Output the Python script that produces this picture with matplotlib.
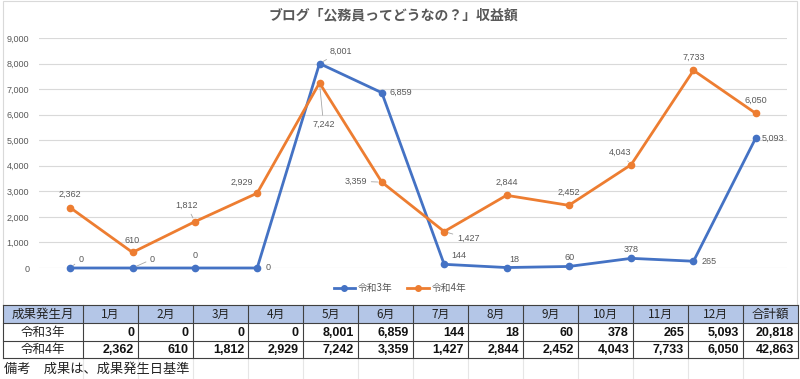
import matplotlib
matplotlib.use("Agg")
import matplotlib.pyplot as plt
from matplotlib.lines import Line2D
from matplotlib.patches import Rectangle

plt.rcParams['font.family'] = ['Noto Sans CJK JP', 'DejaVu Sans']

# データ
months = ['1月', '2月', '3月', '4月', '5月', '6月', '7月', '8月', '9月', '10月', '11月', '12月']
r3 = [0, 0, 0, 0, 8001, 6859, 144, 18, 60, 378, 265, 5093]
r4 = [2362, 610, 1812, 2929, 7242, 3359, 1427, 2844, 2452, 4043, 7733, 6050]
series_names = ['令和3年', '令和4年']
title = 'ブログ「公務員ってどうなの？」収益額'
footer = '備考　成果は、成果発生日基準'

BLUE = '#4472C4'
ORANGE = '#ED7D31'
GRAY = '#595959'

# ラベル位置 (ピクセルのオフセット, 引き出し線)
r3_off = [(11, 9, 1), (20, 9, 1), (0, 12, 0), (11, 0, 0), (21, 12, 1), (19, 0, 0),
          (15, 9, 0), (8, 8, 0), (1, 9, 0), (0, 9, 0), (16, 0, 0), (17, 0, 0)]
r4_off = [(0, 13, 0), (0, 12, 0), (-8, 16, 1), (-15, 11, 0), (4, -41, 1), (-26, 1, 1),
          (24, -7, 1), (0, 13, 0), (0, 13, 0), (-11, 12, 1), (0, 13, 0), (0, 13, 0)]

W, H = 800, 379
fig = plt.figure(figsize=(W / 100, H / 100), dpi=100)

# 背景 (枠・表)
bg = fig.add_axes([0, 0, 1, 1])
bg.set_xlim(0, W)
bg.set_ylim(H, 0)
bg.axis('off')
bg.add_patch(Rectangle((3, 1), 794, 304, fill=False, ec='#d9d9d9', lw=0.8))

# 表
col_x = [3, 83] + [83 + 55 * (i + 1) for i in range(13)]
row_y = [305, 323, 341, 358]
header = ['成果発生月'] + months + ['合計額']
rows = [[series_names[0]] + r3 + [sum(r3)], [series_names[1]] + r4 + [sum(r4)]]

bg.add_patch(Rectangle((col_x[0], row_y[0]), col_x[-1] - col_x[0], row_y[1] - row_y[0],
                       fc='#B4C6E7', ec='none'))
for x in col_x[1:-1]:
    bg.plot([x, x], [358, H], color='#e6e6e6', lw=0.8)
for x in col_x:
    bg.plot([x, x], [row_y[0], row_y[-1]], color='#404040', lw=0.8)
for y in row_y:
    bg.plot([col_x[0], col_x[-1]], [y, y], color='#404040', lw=0.8)

for i, t in enumerate(header):
    cx = (col_x[i] + col_x[i + 1]) / 2
    bg.text(cx, (row_y[0] + row_y[1]) / 2 + 0.5, t, ha='center', va='center',
            fontsize=8.5 if 0 < i < 13 else 9, color='#222222')
for r, row in enumerate(rows):
    cy = (row_y[r + 1] + row_y[r + 2]) / 2 + 0.5
    bg.text((col_x[0] + col_x[1]) / 2, cy, row[0], ha='center', va='center',
            fontsize=9, color='#222222')
    for i, v in enumerate(row[1:]):
        bg.text(col_x[i + 2] - 4, cy, f'{v:,}', ha='right', va='center',
                fontsize=9, fontweight='bold', family='Liberation Sans', color='#111111')

bg.text(4, 369, footer, ha='left', va='center', fontsize=9.5, color='#222222')

# グラフ
ax = fig.add_axes([39 / W, 1 - 268 / H, 748 / W, 230 / H])
ax.patch.set_alpha(0)
x = list(range(len(months)))
ax.plot(x, r3, color=BLUE, lw=2, marker='o', ms=4.5, clip_on=False, zorder=3)
ax.plot(x, r4, color=ORANGE, lw=2, marker='o', ms=4.5, clip_on=False, zorder=3)
ax.set_xlim(-0.5, 11.5)
ax.set_ylim(0, 9000)
ax.set_yticks(range(0, 9001, 1000))
ax.set_yticklabels([f'{v:,}' for v in range(0, 9001, 1000)], family='Liberation Sans',
                   fontsize=6.5, color=GRAY)
ax.set_xticks([])
ax.tick_params(axis='y', length=0, pad=7)
ax.grid(axis='y', color='#d9d9d9', lw=0.8)
ax.set_axisbelow(True)
for s in ax.spines.values():
    s.set_visible(False)

for vals, offs in ((r3, r3_off), (r4, r4_off)):
    for i, v in enumerate(vals):
        dx, dy, lead = offs[i]
        kw = {}
        if lead:
            kw['arrowprops'] = dict(arrowstyle='-', color='#a6a6a6', lw=0.6,
                                    shrinkA=1, shrinkB=3)
        ax.annotate(f'{v:,}', (i, v), xytext=(dx, dy), textcoords='offset pixels',
                    ha='center', va='center', fontsize=6.5, family='Liberation Sans',
                    color=GRAY, annotation_clip=False, **kw)

fig.text(393 / W, 1 - 15 / H, title, ha='center', va='center', fontsize=10,
         fontweight='bold', color=GRAY)

handles = [Line2D([], [], color=BLUE, lw=2, marker='o', ms=4),
           Line2D([], [], color=ORANGE, lw=2, marker='o', ms=4)]
fig.legend(handles, series_names, loc='center', bbox_to_anchor=(400 / W, 1 - 288 / H),
           ncol=2, frameon=False, fontsize=7, labelcolor=GRAY, handlelength=2.2,
           handletextpad=0.3, columnspacing=1.5)

fig.savefig('out.png', dpi=100)
